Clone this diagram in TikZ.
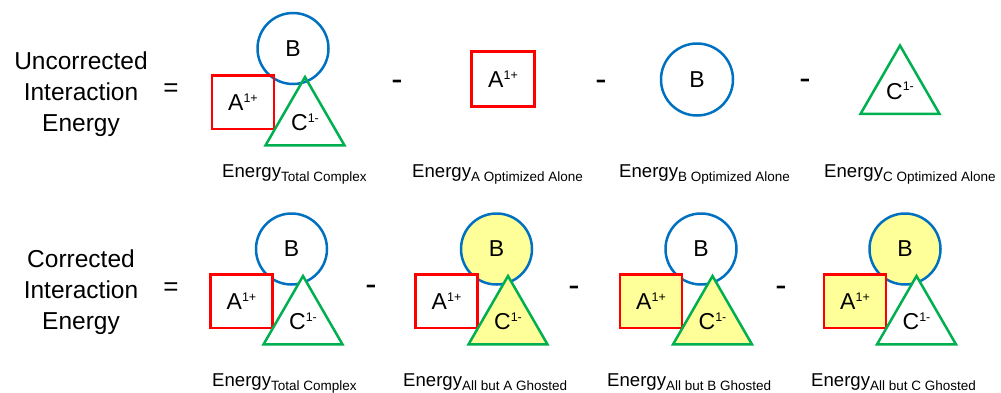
\documentclass[tikz,border=0pt]{standalone}
\usepackage{fontspec}
\setmainfont{Liberation Sans}
\usepackage{tikz}
\usetikzlibrary{shapes.geometric}
\definecolor{AtomRed}{HTML}{FF0000}
\definecolor{AtomBlue}{HTML}{0070C0}
\definecolor{AtomGreen}{HTML}{00B050}
\definecolor{GhostYellow}{HTML}{FFFF99}
\newcommand{\chg}[2]{#1\raisebox{8.5pt}{\fontsize{12.5}{14}\selectfont #2}}
\newcommand{\energysub}[1]{Energy\raisebox{-4.5pt}{\fontsize{13.5}{16}\selectfont #1}}

\begin{document}
\begin{tikzpicture}[
    x=1pt, y=-1pt,
    sqA/.style={draw=AtomRed, line width=2.5pt, minimum width=62pt, minimum height=53.5pt,
      inner sep=0pt, font=\fontsize{23}{26}\selectfont},
    circB/.style={circle, draw=AtomBlue, line width=2.5pt, minimum size=71pt,
      inner sep=0pt, font=\fontsize{23}{26}\selectfont},
    triC/.style={regular polygon, regular polygon sides=3, draw=AtomGreen, line width=2.5pt,
      minimum size=91pt, inner sep=0pt, font=\fontsize{23}{26}\selectfont},
    opsign/.style={font=\fontsize{26}{30}\selectfont, inner sep=0pt},
    sidetext/.style={align=center, font=\fontsize{24.5}{31}\selectfont, inner sep=0pt},
    elabel/.style={anchor=base west, inner sep=0pt, font=\fontsize{18.6}{22}\selectfont}
  ]
  \useasboundingbox (0,0) rectangle (1001,392);

  % uncorrected row
  \node[sidetext] (uncorr) at (81,94) {Uncorrected\\Interaction\\Energy};
  \node[opsign] (eqtop) at (171,90) {=};

  \node[circB] (b0) at (293,48.5) {B};
  \node[sqA] (a0) at (243,102) {\chg{A}{1+}};
  \node[triC] (c0) at (305,122.5) {\chg{C}{1-}};
  \node[elabel] (e0) at (222,177) {\energysub{Total Complex}};

  \node[opsign, scale=1.3] (m1) at (397,85) {-};
  \node[sqA, minimum width=63pt, minimum height=55pt] (aA) at (503,79) {\chg{A}{1+}};
  \node[elabel] (eA) at (412,177) {\energysub{A Optimized Alone}};

  \node[opsign, scale=1.3] (m2) at (601,85) {-};
  \node[circB, minimum size=72pt] (bB) at (697,79.5) {B};
  \node[elabel] (eB) at (619,177) {\energysub{B Optimized Alone}};

  \node[opsign, scale=1.3] (m3) at (805,84) {-};
  \node[triC] (cC) at (900,91) {\chg{C}{1-}};
  \node[elabel] (eC) at (824,177) {\energysub{C Optimized Alone}};

  % corrected row
  \node[sidetext] (corr) at (81,292.5) {Corrected\\Interaction\\Energy};
  \node[opsign] (eqbot) at (171,289) {=};

  \foreach \cx/\fa/\fb/\fc/\i/\lx/\txt in {
      291.5/white/white/white/1/212/{Total Complex},
      496.5/white/GhostYellow/GhostYellow/2/403/{All but A Ghosted},
      701/GhostYellow/white/GhostYellow/3/607/{All but B Ghosted},
      905/GhostYellow/GhostYellow/white/4/811/{All but C Ghosted}} {
    \node[circB, fill=\fb] (bg\i) at (\cx,249) {B};
    \node[sqA, fill=\fa] (ag\i) at (\cx-50,301) {\chg{A}{1+}};
    \node[triC, fill=\fc] (cg\i) at (\cx+11.5,321.5) {\chg{C}{1-}};
    \node[elabel] (eg\i) at (\lx,386) {\energysub{\txt}};
  }

  \node[opsign, scale=1.3] (n1) at (371,290) {-};
  \node[opsign, scale=1.3] (n2) at (574,291) {-};
  \node[opsign, scale=1.3] (n3) at (781,291) {-};
\end{tikzpicture}
\end{document}
